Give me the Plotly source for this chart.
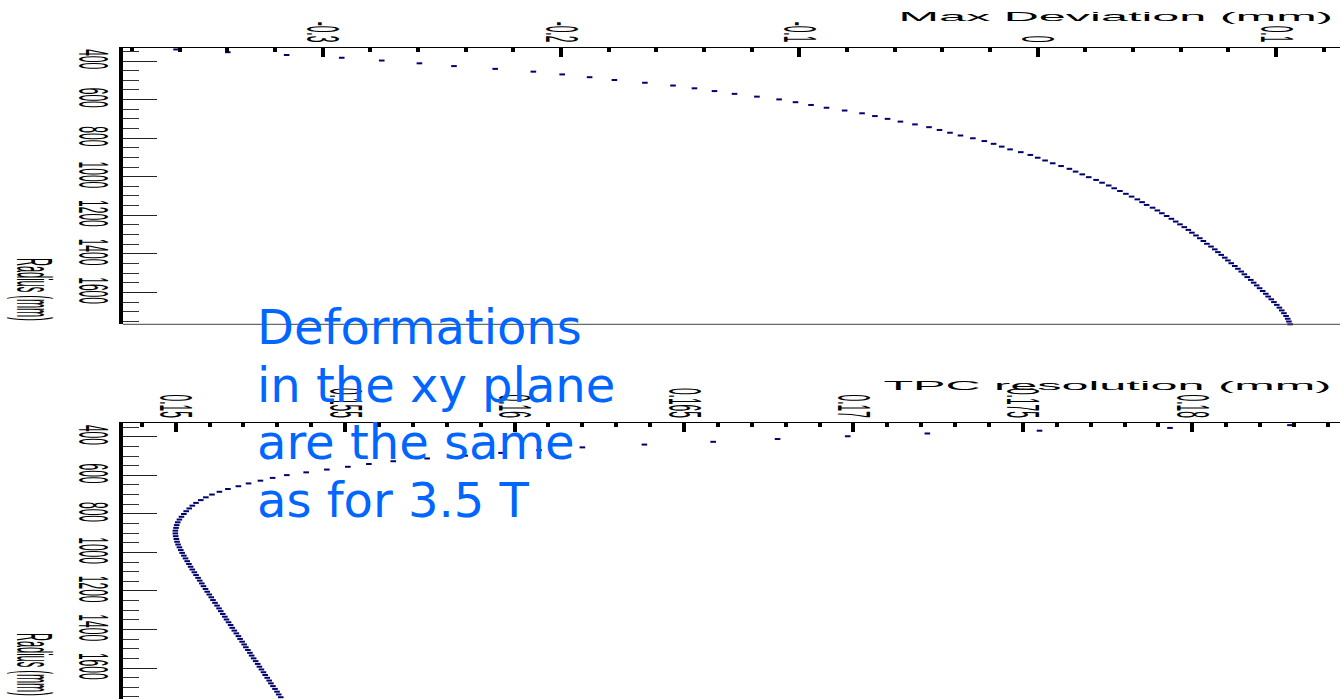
import plotly.graph_objects as go

# Radial positions of the sampled points (mm)
radius_mm = [
    340.0, 354.4, 368.8, 383.2, 397.6, 412.0, 426.4, 440.8, 455.2, 469.6,
    484.0, 498.4, 512.8, 527.2, 541.6, 556.0, 570.4, 584.8, 599.2, 613.6,
    628.0, 642.4, 656.8, 671.2, 685.6, 700.0, 714.4, 728.8, 743.2, 757.6,
    772.0, 786.4, 800.8, 815.2, 829.6, 844.0, 858.4, 872.8, 887.2, 901.6,
    916.0, 930.4, 944.8, 959.2, 973.6, 988.0, 1002.4, 1016.8, 1031.2, 1045.6,
    1060.0, 1074.4, 1088.8, 1103.2, 1117.6, 1132.0, 1146.4, 1160.8, 1175.2, 1189.6,
    1204.0, 1218.4, 1232.8, 1247.2, 1261.6, 1276.0, 1290.4, 1304.8, 1319.2, 1333.6,
    1348.0, 1362.4, 1376.8, 1391.2, 1405.6, 1420.0, 1434.4, 1448.8, 1463.2, 1477.6,
    1492.0, 1506.4, 1520.8, 1535.2, 1549.6, 1564.0, 1578.4, 1592.8, 1607.2, 1621.6,
    1636.0, 1650.4, 1664.8, 1679.2, 1693.6, 1708.0, 1722.4, 1736.8, 1751.2, 1765.6,
]

# Maximum deviation at each radius (mm)
max_deviation_mm = [
    -0.3615, -0.3398, -0.3151, -0.2920, -0.2752, -0.2594, -0.2449, -0.2276, -0.2116, -0.1995,
    -0.1880, -0.1776, -0.1648, -0.1530, -0.1440, -0.1356, -0.1272, -0.1178, -0.1085, -0.1016,
    -0.0951, -0.0886, -0.0810, -0.0737, -0.0683, -0.0630, -0.0576, -0.0515, -0.0456, -0.0412,
    -0.0368, -0.0324, -0.0272, -0.0224, -0.0185, -0.0151, -0.0116, -0.0071, -0.0031, 0.0000,
    0.0031, 0.0063, 0.0098, 0.0133, 0.0159, 0.0187, 0.0214, 0.0245, 0.0270, 0.0298,
    0.0321, 0.0345, 0.0370, 0.0394, 0.0418, 0.0438, 0.0457, 0.0482, 0.0502, 0.0521,
    0.0541, 0.0561, 0.0579, 0.0597, 0.0615, 0.0632, 0.0647, 0.0664, 0.0680, 0.0695,
    0.0710, 0.0727, 0.0743, 0.0756, 0.0770, 0.0785, 0.0798, 0.0812, 0.0827, 0.0840,
    0.0854, 0.0867, 0.0879, 0.0894, 0.0906, 0.0919, 0.0931, 0.0944, 0.0957, 0.0967,
    0.0980, 0.0991, 0.1003, 0.1014, 0.1024, 0.1033, 0.1042, 0.1049, 0.1054, 0.1059,
]

# TPC resolution at each radius (mm)
tpc_resolution_mm = [
    0.18288, 0.17934, 0.17549, 0.17218, 0.16983, 0.16776, 0.16586, 0.16383, 0.16200, 0.16072,
    0.15960, 0.15854, 0.15742, 0.15642, 0.15570, 0.15508, 0.15446, 0.15385, 0.15328, 0.15286,
    0.15250, 0.15215, 0.15185, 0.15154, 0.15129, 0.15107, 0.15089, 0.15074, 0.15060, 0.15049,
    0.15040, 0.15031, 0.15024, 0.15017, 0.15011, 0.15006, 0.15003, 0.15001, 0.14999, 0.14999,
    0.15000, 0.15002, 0.15004, 0.15007, 0.15011, 0.15015, 0.15019, 0.15024, 0.15029, 0.15034,
    0.15039, 0.15044, 0.15049, 0.15055, 0.15060, 0.15066, 0.15071, 0.15077, 0.15082, 0.15088,
    0.15093, 0.15099, 0.15105, 0.15110, 0.15116, 0.15122, 0.15128, 0.15133, 0.15139, 0.15145,
    0.15150, 0.15156, 0.15162, 0.15167, 0.15173, 0.15179, 0.15185, 0.15190, 0.15196, 0.15202,
    0.15207, 0.15213, 0.15219, 0.15224, 0.15230, 0.15236, 0.15242, 0.15247, 0.15253, 0.15259,
    0.15264, 0.15270, 0.15276, 0.15281, 0.15287, 0.15293, 0.15299, 0.15304, 0.15310, 0.15315,
]

dev_ticks = [-0.3, -0.2, -0.1, 0.0, 0.1]
dev_ticktext = ["-0.3", "-0.2", "-0.1", "0", "0.1"]
res_ticks = [0.15, 0.155, 0.16, 0.165, 0.17, 0.175, 0.18]
res_ticktext = ["0.15", "0.155", "0.16", "0.165", "0.17", "0.175", "0.18"]

note_lines = ["Deformations", "in the xy plane", "are the same", "as for 3.5 T"]

W, H = 1340, 699


def fx(px):
    return px / W


def fy(py):
    return 1 - py / H


MARK = "#00006e"
TXT = "Liberation Sans"

fig = go.Figure()
fig.add_trace(go.Scatter(
    x=max_deviation_mm, y=radius_mm, xaxis="x", yaxis="y", mode="markers",
    marker=dict(symbol="line-ew", size=4, line=dict(width=2, color=MARK), color=MARK),
    cliponaxis=False, showlegend=False, hoverinfo="skip",
))
fig.add_trace(go.Scatter(
    x=tpc_resolution_mm, y=radius_mm, xaxis="x2", yaxis="y2", mode="markers",
    marker=dict(symbol="line-ew", size=4, line=dict(width=2, color=MARK), color=MARK),
    cliponaxis=False, showlegend=False, hoverinfo="skip",
))

x_left = fx(123)
top_dom = [fy(324.3), fy(47.7)]
bot_dom = [0.0, fy(423.3)]

xcommon = dict(
    side="top", showgrid=False, zeroline=False, showline=True, linecolor="black",
    linewidth=1.3, ticks="inside", ticklen=9, tickwidth=4, tickcolor="black",
    tickangle=90, tickfont=dict(family=TXT, size=12, color="black"),
    tickmode="array", domain=[x_left, 1.0],
)
ycommon = dict(
    showgrid=False, zeroline=False, showline=True, linecolor="black", linewidth=4,
    ticks="inside", ticklen=34, tickwidth=1, tickcolor="#222", tick0=0, dtick=200,
    minor=dict(ticks="inside", ticklen=16, tickwidth=1, tickcolor="#333", dtick=50, tick0=0),
    tickangle=90, tickfont=dict(family=TXT, size=12, color="black"),
    ticklabelstandoff=15,
)

fig.update_layout(
    width=W, height=H, margin=dict(l=0, r=0, t=0, b=0),
    paper_bgcolor="white", plot_bgcolor="white",
    xaxis=dict(xcommon, anchor="y", range=[-0.38376, 0.12683],
               tickvals=dev_ticks, ticktext=dev_ticktext,
               minor=dict(ticks="inside", ticklen=4, tickwidth=4, tickcolor="black",
                          tickmode="linear", tick0=0, dtick=0.02)),
    yaxis=dict(ycommon, anchor="x", domain=top_dom, range=[1765.6, 331.0]),
    xaxis2=dict(xcommon, anchor="y2", range=[0.148445, 0.184357],
                tickvals=res_ticks, ticktext=res_ticktext,
                minor=dict(ticks="inside", ticklen=4, tickwidth=4, tickcolor="black",
                           tickmode="linear", tick0=0.15, dtick=0.001)),
    yaxis2=dict(ycommon, anchor="x2", domain=bot_dom, range=[1760.4, 330.4]),
    showlegend=False,
)

# lower frame edge of the upper pad
fig.add_shape(type="line", xref="x domain", yref="y domain", x0=0, x1=1, y0=0, y1=0,
              line=dict(color="#444", width=1))

ann = []
# axis titles (indices 0-3 are widened by the script below)
ann.append(dict(text="Max Deviation (mm)", x=fx(1335), y=fy(17.5), xanchor="right",
                yanchor="middle", font=dict(family=TXT, size=12.3, color="black")))
ann.append(dict(text="TPC resolution (mm)", x=fx(1333), y=fy(386), xanchor="right",
                yanchor="middle", font=dict(family=TXT, size=12.3, color="black")))
ann.append(dict(text="Radius (mm)", x=fx(35), y=fy(289), xanchor="center",
                yanchor="middle", textangle=90, font=dict(family=TXT, size=11, color="black")))
ann.append(dict(text="Radius (mm)", x=fx(35), y=fy(664), xanchor="center",
                yanchor="middle", textangle=90, font=dict(family=TXT, size=11, color="black")))
baselines = [344, 401.5, 459, 516.7]
for line, base in zip(note_lines, baselines):
    ann.append(dict(text=line, x=fx(255), y=fy(base - 16.6), xanchor="left",
                    yanchor="middle",
                    font=dict(family="DejaVu Sans", size=48, color="#0066ff")))
for a in ann:
    a.update(xref="paper", yref="paper", showarrow=False)
fig.update_layout(annotations=ann)

# widen the axis lettering horizontally, as on the original canvas
widen_js = """
var gd = document.getElementById('{plot_id}');
function widen(el, ref, mode, sx) {
  var cur = el.getAttribute('transform') || '';
  if (el.__wide && cur === el.__wide) return;
  var r = ref.getBoundingClientRect();
  var cx = mode === 'right' ? r.right : 0.5 * (r.left + r.right);
  var m = el.parentNode.getScreenCTM();
  var lx = (cx - m.e) / m.a;
  var t = 'translate(' + lx + ',0) scale(' + sx + ',1) translate(' + (-lx) + ',0) ' + cur;
  el.setAttribute('transform', t);
  el.__wide = t;
}
function apply() {
  gd.querySelectorAll('.xtick text, .x2tick text').forEach(function (t) {
    widen(t, t, 'center', 3.9);
  });
  gd.querySelectorAll('.ytick text, .y2tick text').forEach(function (t) {
    widen(t, t, 'center', 3.6);
  });
  gd.querySelectorAll('g.annotation').forEach(function (g) {
    var i = parseInt(g.getAttribute('data-index'), 10);
    var txt = g.querySelector('text');
    if (!txt) return;
    if (i === 0 || i === 1) widen(g, txt, 'right', 3.95);
    else if (i === 2 || i === 3) widen(g, txt, 'center', 4.6);
  });
}
apply();
gd.on('plotly_afterplot', apply);
"""

fig.write_html("out.html", post_script=widen_js)
